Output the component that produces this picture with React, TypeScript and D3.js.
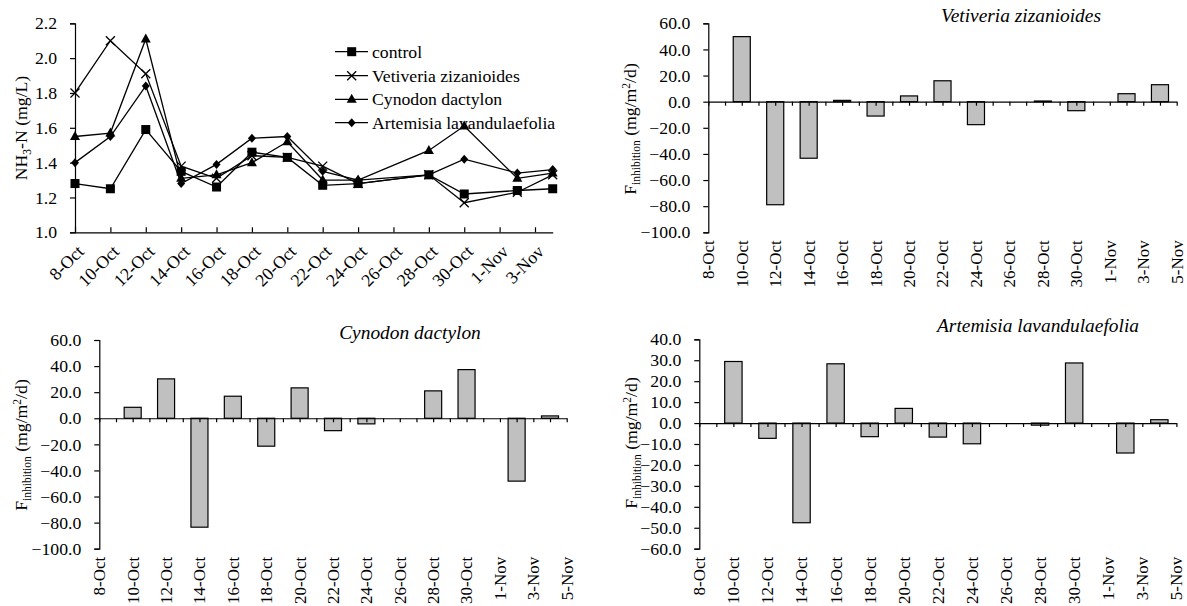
import * as d3 from 'd3'
import { useEffect, useRef } from 'react'

const W = 1187
const H = 606
const FONT = 'Liberation Serif, DejaVu Serif'
const FS = 17.7
const SUB = 11.5

// sampling dates of the NH3-N measurements
const lineDates = ['2010-10-08', '2010-10-10', '2010-10-12', '2010-10-14', '2010-10-16', '2010-10-18', '2010-10-20',
  '2010-10-22', '2010-10-24', '2010-10-28', '2010-10-30', '2010-11-02', '2010-11-04']
const controlNH3 = [1.28, 1.25, 1.59, 1.35, 1.26, 1.46, 1.43, 1.27, 1.28, 1.33, 1.22, 1.24, 1.25]
const vetiveriaNH3 = [1.80, 2.10, 1.91, 1.38, 1.31, 1.44, 1.43, 1.38, 1.28, 1.33, 1.17, 1.23, 1.33]
const cynodonNH3 = [1.55, 1.57, 2.11, 1.31, 1.33, 1.40, 1.52, 1.30, 1.30, 1.47, 1.61, 1.31, 1.34]
const artemisiaNH3 = [1.40, 1.55, 1.84, 1.28, 1.39, 1.54, 1.55, 1.35, 1.30, 1.33, 1.42, 1.34, 1.36]
const lineYTicks = [1.0, 1.2, 1.4, 1.6, 1.8, 2.0, 2.2]

// F inhibition bars
const barDates = ['2010-10-10', '2010-10-12', '2010-10-14', '2010-10-16', '2010-10-18', '2010-10-20',
  '2010-10-22', '2010-10-24', '2010-10-28', '2010-10-30', '2010-11-02', '2010-11-04']
const vetiveriaF = [49.8, -78.9, -43.3, 1.0, -11.0, 4.4, 16.0, -17.6, 0.5, -6.9, 6.1, 13.0]
const cynodonF = [8.4, 30.2, -83.5, 16.9, -21.4, 23.3, -9.5, -4.3, 21.0, 37.3, -48.2, 1.8]
const artemisiaF = [29.4, -7.3, -47.6, 28.3, -6.5, 7.0, -6.7, -9.9, -1.0, 28.7, -14.3, 1.6]
const barYTicks = [60, 40, 20, 0, -20, -40, -60, -80, -100]
const artemisiaYTicks = [40, 30, 20, 10, 0, -10, -20, -30, -40, -50, -60]

const parse = d3.utcParse('%Y-%m-%d')
const fmtDay = d3.utcFormat('%-d-%b')
const fmt1 = d3.format('.1f')

function drawLinePanel(svg) {
  const x = d3.scaleUtc([parse('2010-10-08'), parse('2010-11-04')], [75, 552.7])
  const y = d3.scaleLinear([1.0, 2.2], [232.3, 23.3])

  const xTicks = d3.utcDay.range(parse('2010-10-08'), parse('2010-11-04'), 2)
  svg.append('g')
    .attr('transform', `translate(0,${y(1.0)})`)
    .call(d3.axisBottom(x).tickValues(xTicks).tickFormat(fmtDay).tickSizeInner(-5).tickSizeOuter(0))
    .call(g => g.selectAll('text')
      .attr('x', 0).attr('y', 0).attr('dy', '0.35em')
      .attr('text-anchor', 'end')
      .attr('transform', 'translate(5,16) rotate(-45)'))

  svg.append('g')
    .attr('transform', `translate(${x.range()[0]},0)`)
    .call(d3.axisLeft(y).tickValues(lineYTicks).tickFormat(fmt1).tickSize(5).tickPadding(13))

  const lab = svg.append('text')
    .attr('transform', 'translate(26.5,128) rotate(-90)')
    .attr('text-anchor', 'middle')
  lab.append('tspan').text('NH')
  lab.append('tspan').attr('class', 'sub').attr('dy', 4).text('3')
  lab.append('tspan').attr('dy', -4).text('-N (mg/L)')

  const dates = lineDates.map(parse)
  const series = [
    { name: 'control', values: controlNH3, shape: 'square' },
    { name: 'Vetiveria zizanioides', values: vetiveriaNH3, shape: 'cross' },
    { name: 'Cynodon dactylon', values: cynodonNH3, shape: 'triangle' },
    { name: 'Artemisia lavandulaefolia', values: artemisiaNH3, shape: 'diamond' },
  ]
  const line = d3.line().x(d => x(d[0])).y(d => y(d[1]))

  const marker = (g, shape, cx, cy) => {
    if (shape === 'square') {
      g.append('rect').attr('x', cx - 4.5).attr('y', cy - 4.5).attr('width', 9).attr('height', 9).attr('fill', '#000')
    } else if (shape === 'cross') {
      g.append('path').attr('d', `M${cx - 4.5},${cy - 4.5}L${cx + 4.5},${cy + 4.5}M${cx - 4.5},${cy + 4.5}L${cx + 4.5},${cy - 4.5}`)
        .attr('stroke', '#000').attr('stroke-width', 1.3).attr('fill', 'none')
    } else if (shape === 'triangle') {
      g.append('path').attr('d', `M${cx},${cy - 5.5}L${cx + 5},${cy + 3.5}L${cx - 5},${cy + 3.5}Z`).attr('fill', '#000')
    } else {
      g.append('path').attr('d', `M${cx},${cy - 4.5}L${cx + 4},${cy}L${cx},${cy + 4.5}L${cx - 4},${cy}Z`).attr('fill', '#000')
    }
  }

  series.forEach(s => {
    const pts = dates.map((d, i) => [d, s.values[i]])
    svg.append('path').attr('d', line(pts)).attr('fill', 'none').attr('stroke', '#000').attr('stroke-width', 1.3)
    const g = svg.append('g')
    pts.forEach(p => marker(g, s.shape, x(p[0]), y(p[1])))
  })

  // legend
  const legendY = [51.7, 75.7, 99.3, 122.7]
  series.forEach((s, i) => {
    const g = svg.append('g')
    g.append('line').attr('x1', 335).attr('x2', 368).attr('y1', legendY[i]).attr('y2', legendY[i])
      .attr('stroke', '#000').attr('stroke-width', 1.3)
    marker(g, s.shape, 351.7, legendY[i])
    g.append('text').attr('x', 372).attr('y', legendY[i]).attr('dy', '0.35em').text(s.name)
  })
}

function drawBarPanel(svg, cfg) {
  const start = parse('2010-10-08')
  const end = parse('2010-11-05')
  const x = d3.scaleUtc([start, end], [cfg.x0, cfg.x1])
  const y = d3.scaleLinear(cfg.domain, [cfg.yBot, cfg.yTop])
  const day = (cfg.x1 - cfg.x0) / 28
  const bw = day * 1.02

  svg.append('g')
    .attr('transform', `translate(${cfg.x0},0)`)
    .call(d3.axisLeft(y).tickValues(cfg.ticks).tickFormat(fmt1).tickSize(5).tickPadding(13))

  const dates = barDates.map(parse)
  svg.append('g').selectAll('rect')
    .data(cfg.values)
    .join('rect')
    .attr('x', (d, i) => x(dates[i]) - bw / 2)
    .attr('width', bw)
    .attr('y', d => y(Math.max(0, d)))
    .attr('height', d => Math.abs(y(d) - y(0)))
    .attr('fill', '#c0c0c0')
    .attr('stroke', '#000')
    .attr('stroke-width', 1.2)

  // category axis across zero, ticks every day
  svg.append('g')
    .attr('transform', `translate(0,${y(0)})`)
    .call(d3.axisBottom(x).tickValues(d3.utcDay.range(start, d3.utcDay.offset(end, 1))).tickFormat('').tickSizeInner(4).tickSizeOuter(0))

  // date labels under the plot
  svg.append('g').selectAll('text')
    .data(d3.utcDay.range(start, d3.utcDay.offset(end, 1), 2))
    .join('text')
    .attr('class', 'date')
    .attr('transform', d => `translate(${x(d)},${cfg.yBot + 8}) rotate(-90)`)
    .attr('text-anchor', 'end')
    .attr('dy', '0.35em')
    .text(fmtDay)

  svg.append('text')
    .attr('class', 'title')
    .attr('x', cfg.titleX).attr('y', cfg.titleY)
    .attr('text-anchor', 'middle')
    .attr('font-style', 'italic')
    .text(cfg.title)

  const lab = svg.append('text')
    .attr('transform', `translate(${cfg.labelX},${cfg.labelY}) rotate(-90)`)
    .attr('text-anchor', 'middle')
  lab.append('tspan').text('F')
  lab.append('tspan').attr('class', 'sub').attr('dy', 4).text('inhibition')
  lab.append('tspan').attr('dy', -4).text(' (mg/m')
  lab.append('tspan').attr('class', 'sub').attr('dy', -6).text('2')
  lab.append('tspan').attr('dy', 6).text('/d)')
}

export default function App() {
  const ref = useRef(null)
  useEffect(() => {
    const svg = d3.select(ref.current)
    svg.selectAll('*').remove()

    drawLinePanel(svg)
    drawBarPanel(svg, {
      x0: 708.3, x1: 1176.7, yTop: 23.3, yBot: 232.3, domain: [-100, 60], ticks: barYTicks,
      values: vetiveriaF, title: 'Vetiveria zizanioides', titleX: 1021, titleY: 22,
      labelX: 636, labelY: 129,
    })
    drawBarPanel(svg, {
      x0: 99.3, x1: 566.7, yTop: 340, yBot: 548.7, domain: [-100, 60], ticks: barYTicks,
      values: cynodonF, title: 'Cynodon dactylon', titleX: 410, titleY: 339,
      labelX: 26.5, labelY: 445,
    })
    drawBarPanel(svg, {
      x0: 699.3, x1: 1176.4, yTop: 339.3, yBot: 548.7, domain: [-60, 40], ticks: artemisiaYTicks,
      values: artemisiaF, title: 'Artemisia lavandulaefolia', titleX: 1038, titleY: 331.7,
      labelX: 636.5, labelY: 443,
    })

    svg.selectAll('g').attr('font-family', null).attr('font-size', null)
    svg.selectAll('text').attr('font-family', FONT).attr('font-size', FS)
    svg.selectAll('text.title').attr('font-size', 19.4)
    svg.selectAll('text.date').attr('font-size', 17)
    svg.selectAll('tspan.sub').attr('font-size', SUB)
    svg.selectAll('.domain, .tick line').attr('stroke', '#000').attr('stroke-width', 1.2)
  }, [])

  return (
    <svg ref={ref} width={W} height={H} viewBox={`0 0 ${W} ${H}`}
      style={{ position: 'absolute', left: 0, top: 0, background: '#fff' }} />
  )
}
